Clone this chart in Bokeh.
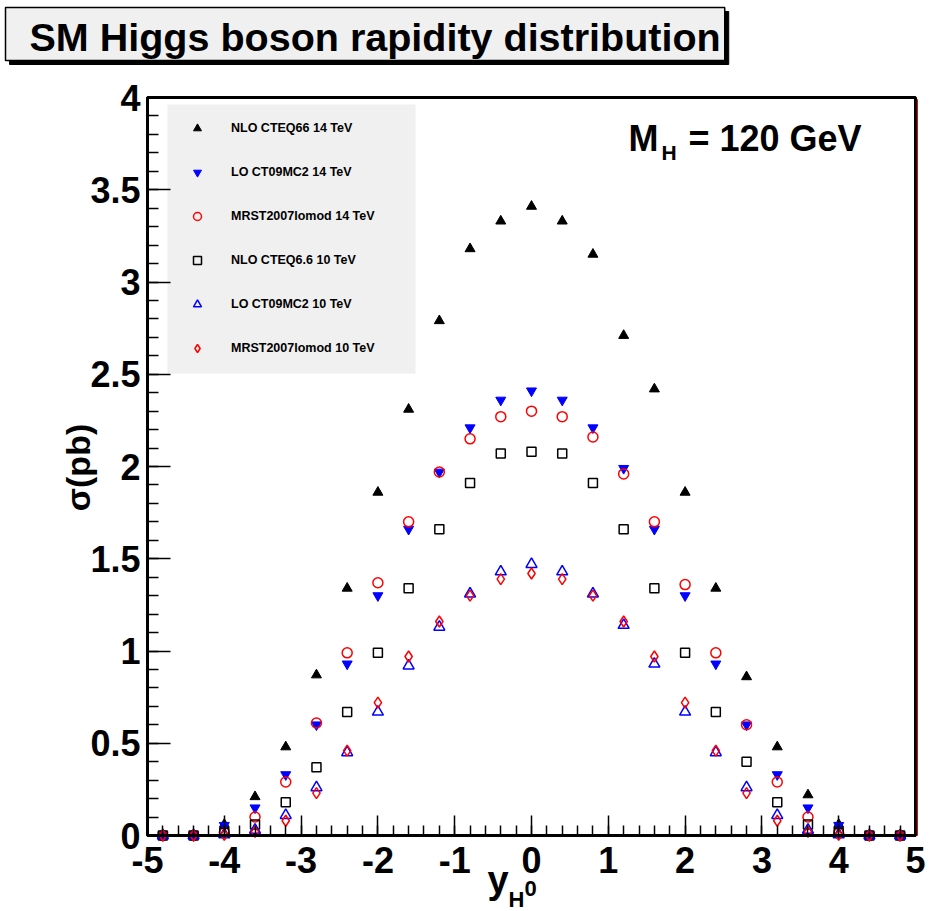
import math
from bokeh.plotting import figure
from bokeh.models import (Label, Legend, LegendItem, SingleIntervalTicker, BoxAnnotation)
from bokeh.embed import file_html
from bokeh.resources import INLINE

# ---------------- data ----------------
rapidity = [-4.8, -4.4, -4.0, -3.6, -3.2, -2.8, -2.4, -2.0, -1.6, -1.2, -0.8, -0.4, 0.0,
            0.4, 0.8, 1.2, 1.6, 2.0, 2.4, 2.8, 3.2, 3.6, 4.0, 4.4, 4.8]

nlo_cteq66_14 = [0.0, 0.0, 0.06, 0.21, 0.48, 0.87, 1.34, 1.86, 2.31, 2.79, 3.18, 3.33, 3.41,
                 3.33, 3.15, 2.71, 2.42, 1.86, 1.34, 0.86, 0.48, 0.22, 0.06, 0.0, 0.0]
lo_ct09mc2_14 = [0.0, 0.0, 0.055, 0.15, 0.33, 0.60, 0.93, 1.30, 1.66, 1.97, 2.21, 2.36, 2.41,
                 2.36, 2.21, 1.99, 1.66, 1.30, 0.93, 0.60, 0.33, 0.15, 0.055, 0.0, 0.0]
mrst_lomod_14 = [0.0, 0.0, 0.015, 0.10, 0.29, 0.61, 0.99, 1.37, 1.70, 1.97, 2.15, 2.27, 2.30,
                 2.27, 2.16, 1.96, 1.70, 1.36, 0.99, 0.60, 0.29, 0.10, 0.012, 0.0, 0.0]
nlo_cteq66_10 = [0.0, 0.0, 0.015, 0.06, 0.18, 0.37, 0.67, 0.99, 1.34, 1.66, 1.91, 2.07, 2.08,
                 2.07, 1.91, 1.66, 1.34, 0.99, 0.67, 0.40, 0.18, 0.06, 0.015, 0.0, 0.0]
lo_ct09mc2_10 = [0.0, 0.0, 0.005, 0.03, 0.11, 0.26, 0.45, 0.67, 0.92, 1.13, 1.31, 1.43, 1.47,
                 1.43, 1.31, 1.14, 0.93, 0.67, 0.45, 0.26, 0.11, 0.03, 0.005, 0.0, 0.0]
mrst_lomod_10 = [0.0, 0.0, 0.003, 0.02, 0.08, 0.23, 0.46, 0.72, 0.97, 1.16, 1.30, 1.39, 1.42,
                 1.39, 1.30, 1.16, 0.97, 0.72, 0.46, 0.23, 0.08, 0.02, 0.003, 0.0, 0.0]

series_names = ["NLO CTEQ66 14 TeV", "LO CT09MC2 14 TeV", "MRST2007lomod 14 TeV",
                "NLO CTEQ6.6 10 TeV", "LO CT09MC2 10 TeV", "MRST2007lomod 10 TeV"]

x_tick_labels = ["-5", "-4", "-3", "-2", "-1", "0", "1", "2", "3", "4", "5"]
y_tick_labels = ["0", "0.5", "1", "1.5", "2", "2.5", "3", "3.5", "4"]

title_text = "SM Higgs boson rapidity distribution"
x_title, x_sub, x_sup = "y", "H", "0"
y_title = "σ(pb)"
mass_main, mass_sub, mass_rest = "M", "H", "= 120 GeV"

FONT = "Liberation Sans"
ASCENT = 0.905   # Liberation Sans ascent (em) -> converts a baseline to a "top" anchor
W, H = 930, 911

# axis box of the reference in page pixels: x=-5..5 -> 147..915, y=0..4 -> 835..97
X0, XS = 531.0, 76.8
Y0, YS = 835.0, 184.5
def dx(px):
    return (px - X0) / XS
def dy(py):
    return (Y0 - py) / YS

# frame covers the whole canvas; axes are fixed inside it
p = figure(width=W, height=H, x_range=(dx(0), dx(W)), y_range=(dy(H), dy(0)),
           output_backend="svg", toolbar_location=None,
           min_border_left=0, min_border_right=0, min_border_top=0, min_border_bottom=0,
           background_fill_color="white", border_fill_color="white")
p.grid.visible = False
p.outline_line_color = None

xa, ya = p.xaxis[0], p.yaxis[0]
xa.fixed_location = 0
ya.fixed_location = -5
xa.bounds = (-5, 5)
ya.bounds = (0, 4)
xa.ticker = SingleIntervalTicker(interval=1, num_minor_ticks=5)
ya.ticker = SingleIntervalTicker(interval=0.5, num_minor_ticks=5)
xa.major_label_overrides = {i - 5: s for i, s in enumerate(x_tick_labels)}
ya.major_label_overrides = {i * 0.5: s for i, s in enumerate(y_tick_labels)}
for ax in (xa, ya):
    ax.axis_line_width = 3
    ax.axis_line_color = "black"
    ax.major_tick_out = 0
    ax.minor_tick_out = 0
    ax.major_tick_line_width = 1.5
    ax.minor_tick_line_width = 1.5
    ax.major_label_text_font = FONT
    ax.major_label_text_font_style = "bold"
    ax.major_label_text_font_size = "36px"
    ax.major_label_text_color = "black"
xa.major_tick_in = 20
xa.minor_tick_in = 10
ya.major_tick_in = 23
ya.minor_tick_in = 11
xa.major_label_standoff = 11
ya.major_label_standoff = 7

# top / right frame lines
p.add_layout(BoxAnnotation(left=-5, right=5, bottom=0, top=4, fill_alpha=0,
                           line_color="black", line_alpha=1, line_width=3, level="underlay"))
p.add_layout(BoxAnnotation(left=dx(917), right=dx(917), bottom=0, top=dy(99),
                           fill_alpha=0, line_color="red", line_alpha=1, line_width=1,
                           level="underlay"))

# legend background
p.add_layout(BoxAnnotation(left=dx(167), right=dx(415), top=dy(104), bottom=dy(373),
                           fill_color="#f0f0f0", fill_alpha=1, line_color=None,
                           level="underlay"))

# ---------------- markers ----------------
r1 = p.scatter(rapidity, nlo_cteq66_14, marker="triangle", size=10,
               fill_color="black", line_color="black")
r2 = p.scatter(rapidity, lo_ct09mc2_14, marker="inverted_triangle", size=10,
               fill_color="blue", line_color="blue")
r3 = p.scatter(rapidity, mrst_lomod_14, marker="circle", size=10,
               fill_color=None, line_color="red", line_width=1.5)
r4 = p.scatter(rapidity, nlo_cteq66_10, marker="square", size=9,
               fill_color=None, line_color="black", line_width=1.5)
r5 = p.scatter(rapidity, lo_ct09mc2_10, marker="triangle", size=11,
               fill_color=None, line_color="blue", line_width=1.5)
r6 = p.scatter(rapidity, mrst_lomod_10, marker="diamond", size=11,
               fill_color=None, line_color="red", line_width=1.5)

legend = Legend(items=[LegendItem(label=n, renderers=[r]) for n, r in
                       zip(series_names, [r1, r2, r3, r4, r5, r6])],
                location=(179, H - 358), margin=0, padding=14, spacing=24,
                glyph_width=36, glyph_height=20, label_height=20,
                label_standoff=16,
                background_fill_alpha=0.0, border_line_color=None,
                label_text_font=FONT, label_text_font_style="bold",
                label_text_font_size="12.5px", label_text_color="black")
p.add_layout(legend)

# ---------------- texts ----------------
def lab(px, baseline_py, text, size, **kw):
    """Text whose left edge is at page x px and whose baseline is at page y baseline_py."""
    opts = dict(text_font=FONT, text_font_style="bold", text_color="black",
                text_align="left", text_baseline="top")
    opts.update(kw)
    top = baseline_py - ASCENT * size
    return Label(x=dx(px), y=dy(top), text=text, text_font_size=f"{size}px", **opts)

# title box with shadow: box top-left at page (5, 7); padding = (left, right, top, bottom)
TSIZE = 39.5
title_pad = (24, 4, 7, 2)
for shadow in (True, False):
    p.add_layout(Label(x=dx(5), y=dy(7), text=title_text, text_font=FONT,
                       text_font_style="bold", text_font_size=f"{TSIZE}px",
                       text_color="black", text_align="left", text_baseline="top",
                       padding=title_pad,
                       x_offset=4 if shadow else 0, y_offset=-4 if shadow else 0,
                       background_fill_color="black" if shadow else "#f0f0f0",
                       border_line_color="black",
                       border_line_width=1 if shadow else 1.5))

# M_H = 120 GeV
p.add_layout(lab(628, 150, mass_main, 36))
p.add_layout(lab(661, 160, mass_sub, 21))
p.add_layout(lab(688, 150, mass_rest, 36))

# x-axis title: y_{H^0}
p.add_layout(lab(487, 893, x_title, 38))
p.add_layout(lab(508, 906, x_sub, 22))
p.add_layout(lab(524, 900, x_sup, 22))

# y-axis title (rotated, centred)
p.add_layout(Label(x=dx(77), y=dy(467), text=y_title, text_font=FONT,
                   text_font_style="bold", text_color="black", text_font_size="34px",
                   text_align="center", text_baseline="middle", angle=math.pi / 2))

open("out.html", "w").write(file_html(p, INLINE))
